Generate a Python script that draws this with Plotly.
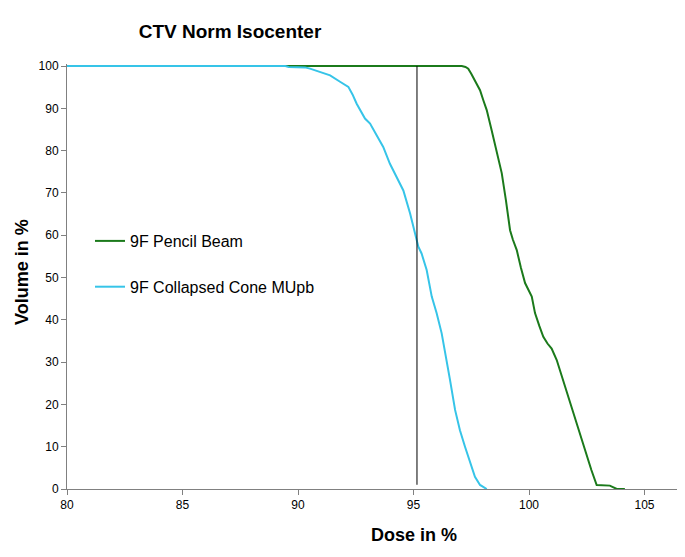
import plotly.graph_objects as go

# Pencil beam DVH (dose %, volume %)
pb_dose = [80.0, 97.09, 97.25, 97.37, 97.5, 97.66, 97.88, 98.03, 98.17, 98.38, 98.60, 98.82, 99.0,
           99.18, 99.3, 99.47, 99.65, 99.83, 100.12, 100.26, 100.45, 100.62, 100.8, 100.98,
           101.2, 101.4, 101.56, 101.85, 102.0, 102.2, 102.5, 102.7, 102.93, 103.5, 103.8, 104.15]
pb_vol = [100, 100, 99.8, 99.4, 98.2, 96.6, 94.3, 91.8, 89.6, 84.9, 80.1, 74.7, 68.3,
          61.2, 59.0, 56.5, 52.3, 48.7, 45.5, 41.6, 38.5, 36.0, 34.4, 33.2,
          30.5, 27.0, 24.2, 19.5, 16.8, 13.2, 7.6, 4.5, 0.95, 0.8, 0.0, 0.0]

# Collapsed cone DVH
cc_dose = [80.0, 89.45, 89.6, 90.30, 90.52, 90.95, 91.39, 91.82, 92.18, 92.36, 92.54, 92.9, 93.12,
           93.41, 93.69, 93.98, 94.27, 94.56, 94.85, 95.06, 95.21, 95.35, 95.57, 95.79,
           96.0, 96.22, 96.36, 96.58, 96.8, 97.01, 97.23, 97.45, 97.66, 97.88, 98.17]
cc_vol = [100, 100, 99.8, 99.7, 99.4, 98.6, 97.8, 96.3, 95.1, 93.3, 91.1, 87.6, 86.4,
          83.6, 80.9, 76.9, 73.8, 70.6, 65.2, 60.4, 57.3, 55.7, 51.8, 45.5,
          41.6, 36.8, 32.1, 25.8, 18.7, 13.9, 10.0, 6.1, 2.9, 0.95, 0.0]

ref_dose = 95.15
ref_vol = [1, 100]

x_ticks = [80, 85, 90, 95, 100, 105]
y_ticks = [0, 10, 20, 30, 40, 50, 60, 70, 80, 90, 100]

green = "#1b7a1b"
cyan = "#36c4e8"
font = "Liberation Sans, Arial, sans-serif"

OFF = 8  # page body margin offset
W, H = 685 - OFF, 557 - OFF
left, right_px, top_px, bottom_px = 67 - OFF, 685 - OFF, 64 - OFF, 489 - OFF
ymax = 100.5

fig = go.Figure()
fig.add_trace(go.Scatter(x=pb_dose, y=pb_vol, mode="lines", name="9F Pencil Beam",
                         line=dict(color=green, width=2), legendgroup="a"))
fig.add_trace(go.Scatter(x=cc_dose, y=cc_vol, mode="lines", name="9F Collapsed Cone MUpb",
                         line=dict(color=cyan, width=2), legendgroup="b"))
fig.add_trace(go.Scatter(x=[ref_dose, ref_dose], y=ref_vol, mode="lines", showlegend=False,
                         line=dict(color="black", width=1)))

pw = right_px - left
ph = bottom_px - top_px


def px(xw):
    return (xw - OFF - left) / pw


def py(yw):
    return (bottom_px - (yw - OFF)) / ph


fig.update_layout(
    width=W, height=H,
    margin=dict(l=left, r=W - right_px, t=top_px, b=H - bottom_px, pad=0),
    paper_bgcolor="white", plot_bgcolor="white",
    font=dict(family=font, color="black", size=12),
    title=dict(text="<b>CTV Norm Isocenter</b>", x=(230 - OFF) / W, xref="container",
               xanchor="center", y=1 - (31 - OFF) / H, yref="container", yanchor="middle",
               font=dict(size=19, family=font, color="black")),
    showlegend=True,
    legend=dict(x=px(90), y=py(224), xanchor="left", yanchor="top",
                font=dict(size=16, family=font, color="black"),
                bgcolor="rgba(0,0,0,0)", tracegroupgap=22, itemwidth=30),
    xaxis=dict(range=[80, 80 + pw / 23.1], tickvals=x_ticks, showgrid=False, zeroline=False,
               showline=True, linecolor="#808080", linewidth=1, ticks="outside", ticklen=5,
               tickcolor="#808080", tickfont=dict(size=12, family=font, color="black")),
    yaxis=dict(range=[0, ymax], tickvals=y_ticks, showgrid=False, zeroline=False,
               showline=True, linecolor="#808080", linewidth=1, ticks="outside", ticklen=5,
               tickcolor="#808080", tickfont=dict(size=12, family=font, color="black")),
    annotations=[
        dict(text="<b>Dose in %</b>", xref="paper", yref="paper", x=px(414), y=py(535),
             xanchor="center", yanchor="middle", showarrow=False,
             font=dict(size=18, family=font, color="black")),
        dict(text="<b>Volume in %</b>", xref="paper", yref="paper", x=px(22), y=py(272),
             xanchor="center", yanchor="middle", showarrow=False, textangle=-90,
             font=dict(size=18, family=font, color="black")),
    ],
)

fig.write_html("out.html")
